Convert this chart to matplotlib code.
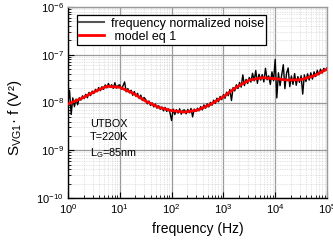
import numpy as np
import matplotlib
matplotlib.use("Agg")
import matplotlib.pyplot as plt
from matplotlib.ticker import LogLocator, NullFormatter

plt.rcParams['font.family'] = ['Liberation Sans', 'DejaVu Sans']
plt.rcParams['mathtext.fontset'] = 'custom'
plt.rcParams['mathtext.rm'] = 'Liberation Sans'
plt.rcParams['mathtext.it'] = 'Liberation Sans:italic'
plt.rcParams['mathtext.bf'] = 'Liberation Sans:bold'

# ---- data (values in units of 1e-9 V^2) ----
# measured frequency-normalized noise, sampled at 32 points per decade from 1 Hz to 100 kHz
noise_freq = np.logspace(0, 5, 161)
noise_vals = [
    9.6, 18.0, 5.6, 12.5, 8.2, 11.8, 9.0, 12.6,
    11.2, 13.8, 12.1, 14.9, 12.6, 16.3, 14.0, 17.4,
    15.4, 18.9, 16.8, 20.6, 17.7, 21.5, 18.9, 23.4,
    20.3, 25.1, 21.0, 23.6, 19.8, 26.0, 20.1, 22.8,
    23.5, 19.0, 22.4, 27.0, 16.8, 19.6, 15.9, 18.1,
    14.2, 17.0, 13.5, 15.6, 12.1, 14.3, 11.0, 12.8,
    11.6, 9.4, 10.8, 8.7, 9.9, 8.1, 9.3, 7.6,
    8.6, 7.2, 8.1, 6.7, 7.9, 6.5, 7.4, 6.2,
    4.2, 7.3, 5.6, 7.1, 6.0, 7.4, 5.7, 6.9,
    7.0, 5.8, 7.2, 6.1, 7.5, 5.0, 7.3, 6.5,
    7.6, 6.7, 8.2, 7.0, 8.9, 7.6, 9.4, 8.1,
    10.1, 8.8, 11.2, 9.6, 12.3, 10.4, 13.4, 11.5,
    14.6, 12.3, 16.5, 13.9, 18.8, 11.0, 20.6, 17.5,
    23.5, 19.6, 26.4, 21.0, 38.0, 22.6, 30.5, 25.1,
    33.5, 26.8, 41.0, 28.4, 47.0, 25.3, 39.2, 29.6,
    38.5, 27.0, 52.0, 30.1, 36.2, 24.0, 44.0, 28.5,
    80.0, 12.5, 42.0, 22.5, 37.5, 62.0, 19.5, 41.0,
    53.0, 21.5, 36.0, 24.0, 40.5, 23.0, 35.0, 26.5,
    36.5, 15.0, 38.0, 27.5, 40.0, 29.5, 42.0, 31.0,
    44.0, 35.0, 47.5, 38.0, 50.0, 41.5, 52.0, 47.0,
    53.0,
]
# model eq 1, sampled at 4 points per decade
model_freq = np.logspace(0, 5, 21)
model_vals = [9.33, 12.0, 16.6, 21.9, 20.9, 15.8, 10.7, 7.94, 6.76, 6.31, 6.92,
              9.12, 13.2, 20.9, 29.5, 33.1, 31.6, 29.5, 30.2, 36.3, 50.1]

unit = 1e-9
legend_labels = ["frequency normalized noise", " model eq 1"]
annotation = "UTBOX\nT=220K\nL$_\\mathregular{G}$=85nm"
xlabel = "frequency (Hz)"
ylabel = "S$_\\mathregular{VG1}$· f (V²)"

fig = plt.figure(figsize=(3.33, 2.45), dpi=100)
ax = fig.add_axes([0.204, 0.192, 0.778, 0.779])

ax.plot(noise_freq, np.array(noise_vals) * unit, color='black', lw=1.0,
        label=legend_labels[0], zorder=3)
ax.plot(model_freq, np.array(model_vals) * unit, color='#ff0000', lw=2.0,
        label=legend_labels[1], zorder=4)

ax.set_xscale('log')
ax.set_yscale('log')
ax.set_xlim(1, 1e5)
ax.set_ylim(1e-10, 1e-6)

ax.xaxis.set_major_locator(LogLocator(base=10, numticks=10))
ax.yaxis.set_major_locator(LogLocator(base=10, numticks=10))
ax.xaxis.set_minor_locator(LogLocator(base=10, subs=np.arange(2, 10), numticks=20))
ax.yaxis.set_minor_locator(LogLocator(base=10, subs=np.arange(2, 10), numticks=20))
ax.xaxis.set_minor_formatter(NullFormatter())
ax.yaxis.set_minor_formatter(NullFormatter())

ax.grid(which='major', color='#9a9a9a', lw=0.9, ls='-', zorder=0)
ax.grid(which='minor', color='#c8c8c8', lw=0.5, ls=(0, (1, 1.5)), zorder=0)
ax.set_axisbelow(True)

ax.tick_params(which='both', direction='in', top=False, right=False,
               labelsize=8, pad=3)
ax.tick_params(which='major', length=4, width=0.8)
ax.tick_params(which='minor', length=2, width=0.6)

for side in ['top', 'right']:
    ax.spines[side].set_color('#9a9a9a')
    ax.spines[side].set_linewidth(1.0)
for side in ['left', 'bottom']:
    ax.spines[side].set_color('black')
    ax.spines[side].set_linewidth(1.0)

ax.set_xlabel(xlabel, fontsize=10, labelpad=4.5)
ax.set_ylabel(ylabel, fontsize=11)
ax.yaxis.set_label_coords(-0.168, 0.42)

leg = ax.legend(loc='upper left', bbox_to_anchor=(0.035, 0.958), fontsize=9,
                frameon=True, fancybox=False, edgecolor='black', framealpha=1,
                handlelength=2.0, borderpad=0.2, labelspacing=0.1,
                handletextpad=0.5, borderaxespad=0)
leg.get_frame().set_linewidth(0.9)
leg.get_lines()[0].set_color('#555555')
leg.get_lines()[0].set_linewidth(1.5)

ax.text(0.085, 0.415, annotation, transform=ax.transAxes, fontsize=7.8,
        va='top', ha='left', linespacing=1.4, zorder=5)

fig.savefig('out.png', dpi=100)
